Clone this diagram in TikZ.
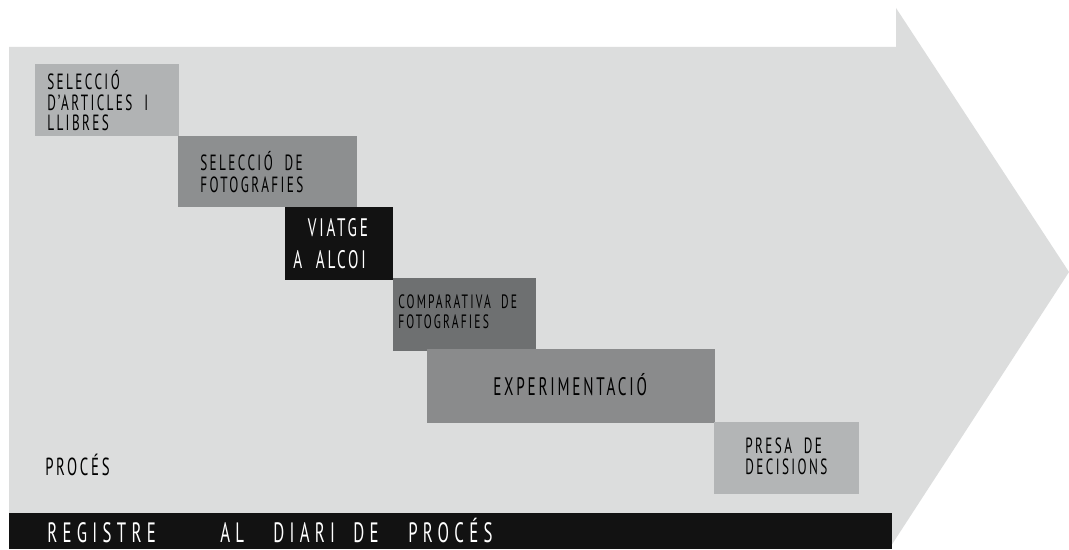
\documentclass[tikz,border=0pt]{standalone}
\usepackage{fontspec}
\setmainfont{PT Sans}[FakeStretch=0.6, LetterSpace=11]
\newfontfamily\barfont{PT Sans}[FakeStretch=0.6, LetterSpace=19]
\usetikzlibrary{fit}
\definecolor{bgarrow}{HTML}{DCDDDD}
\definecolor{cA}{HTML}{B1B3B4}
\definecolor{cB}{HTML}{8D8F90}
\definecolor{cC}{HTML}{121212}
\definecolor{cD}{HTML}{6E7071}
\definecolor{cE}{HTML}{8A8B8C}
\definecolor{cF}{HTML}{B3B5B6}
\tikzset{
  stepbox/.style={inner sep=0pt, draw=none},
  lbl/.style={anchor=base west, inner sep=0pt, align=left, text=black},
}
\begin{document}
\begin{tikzpicture}[x=0.75pt,y=-0.75pt]
\useasboundingbox[fill=white] (0,0) rectangle (1069,549);
% big arrow
\fill[bgarrow] (9,47) -- (896,47) -- (896,8) -- (1069,272) -- (889,549) -- (9,549) -- cycle;
% boxes
\node[stepbox, fill=cA, fit={(35,64) (179,136)}] (b1) {};
\node[stepbox, fill=cB, fit={(178,136) (357,207)}] (b2) {};
\node[stepbox, fill=cC, fit={(285,207) (393,280)}] (b3) {};
\node[stepbox, fill=cD, fit={(393,278) (536,351)}] (b4) {};
\node[stepbox, fill=cE, fit={(427,349) (715,423)}] (b5) {};
\node[stepbox, fill=cF, fit={(714,422) (859,494)}] (b6) {};
\node[stepbox, fill=cC, fit={(9,513) (892,549)}] (bar) {};
% labels
\node[lbl, font=\fontsize{16.5}{15.5}\selectfont] (t1) at (47,131) {SELECCIÓ\\D'ARTICLES \ I\\LLIBRES};
\node[lbl, font=\fontsize{16.5}{16.5}\selectfont] (t2) at (200,192) {SELECCIÓ \ DE\\FOTOGRAFIES};
\node[lbl, text=white, font=\fontsize{19}{24}\selectfont] (t3) at (293,268) {\hspace*{11pt}VIATGE\\A \ ALCOI};
\node[lbl, font=\fontsize{14.5}{15}\selectfont] (t4) at (398,328) {COMPARATIVA \ DE\\FOTOGRAFIES};
\node[lbl, font=\fontsize{19}{20}\selectfont] (t5) at (493,395) {EXPERIMENTACIÓ};
\node[lbl, font=\fontsize{16.5}{15.75}\selectfont] (t6) at (745,474) {PRESA \ DE\\DECISIONS};
\node[lbl, font=\fontsize{18.5}{18}\selectfont] (t7) at (45,475) {PROCÉS};
\node[lbl, text=white, font=\barfont\fontsize{21}{22}\selectfont] (t8) at (47,542) {\makebox[129.75pt][l]{REGISTRE}\makebox[39.75pt][l]{AL}\makebox[60pt][l]{DIARI}\makebox[41.25pt][l]{DE}PROCÉS};
\end{tikzpicture}
\end{document}
